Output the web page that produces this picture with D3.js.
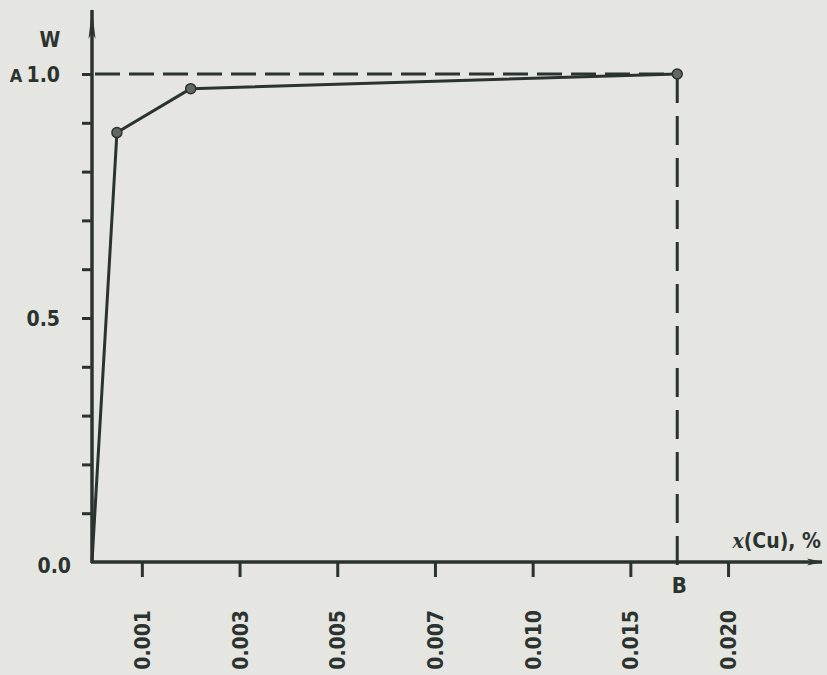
<!DOCTYPE html>
<html>
<head>
<meta charset="utf-8">
<script src="https://cdn.jsdelivr.net/npm/d3@7"></script>
<style>
  body { margin: 0; background: #e5e5e1; }
  svg { display: block; }
  text {
    font-family: "DejaVu Sans Condensed", "Liberation Sans Narrow", "DejaVu Sans", sans-serif;
    font-stretch: condensed;
    font-weight: bold;
    fill: #2b332f;
  }
</style>
</head>
<body>
<svg id="chart"></svg>
<script>
// x(Cu), % tick positions (the axis is not linear, each tick gets an equal step)
const xTicks = [0.001, 0.003, 0.005, 0.007, 0.010, 0.015, 0.020];
const xTickLabels = ['0.001', '0.003', '0.005', '0.007', '0.010', '0.015', '0.020'];
const yTicks = [0.0, 0.1, 0.2, 0.3, 0.4, 0.5, 0.6, 0.7, 0.8, 0.9, 1.0];
const yTickLabels = ['0.0', '', '', '', '', '0.5', '', '', '', '', '1.0'];

// measured curve W(x)
const xValues = [0, 0.0005, 0.002, 0.0174];
const wValues = [0, 0.88, 0.97, 1.0];

// marked points A (W = 1) and B (x where W reaches 1)
const pointA = 1.0;
const pointB = 0.0174;

const ink = '#2b332f';
const width = 827;
const height = 675;
const margin = { left: 92, top: 74, bottom: 113 };
const step = 97.7;

const svg = d3.select('#chart')
  .attr('width', width)
  .attr('height', height);

const defs = svg.append('defs');
defs.append('marker')
  .attr('id', 'arrowY')
  .attr('viewBox', '0 -4 30 8')
  .attr('refX', 29)
  .attr('refY', 0)
  .attr('markerUnits', 'userSpaceOnUse')
  .attr('markerWidth', 30)
  .attr('markerHeight', 8)
  .attr('orient', 'auto')
  .append('path')
  .attr('d', 'M0,-3.5L30,0L0,3.5L7,0Z')
  .attr('fill', ink);
defs.append('marker')
  .attr('id', 'arrowX')
  .attr('viewBox', '0 -4 16 8')
  .attr('refX', 15)
  .attr('refY', 0)
  .attr('markerUnits', 'userSpaceOnUse')
  .attr('markerWidth', 16)
  .attr('markerHeight', 8)
  .attr('orient', 'auto')
  .append('path')
  .attr('d', 'M0,-3.5L16,0L0,3.5L4,0Z')
  .attr('fill', ink);

const g = svg.append('g')
  .attr('transform', 'translate(' + margin.left + ',0)');

// piecewise scale: origin, then half a step to the first tick, then one step per tick
const x = d3.scaleLinear()
  .domain([0, ...xTicks])
  .range([0, ...xTicks.map((d, i) => step / 2 + 1 + i * step)]);

const y = d3.scaleLinear()
  .domain([0, 1])
  .range([height - margin.bottom, margin.top]);

// y axis ticks and labels
const yAxis = g.append('g')
  .call(d3.axisLeft(y)
    .tickValues(yTicks)
    .tickSize(10)
    .tickPadding(22)
    .tickFormat((d, i) => yTickLabels[i]));
yAxis.select('.domain').remove();
yAxis.selectAll('.tick line')
  .attr('stroke', ink)
  .attr('stroke-width', 3)
  .filter(d => d === 0)
  .remove();
yAxis.selectAll('.tick text')
  .attr('font-size', 21)
  .attr('fill', ink)
  .attr('dx', d => (d === 0 ? 11 : 0))
  .attr('dy', d => (d === 0 ? '0.5em' : '0.36em'));

// x axis ticks and rotated labels
const xAxis = g.append('g')
  .attr('transform', 'translate(0,' + y(0) + ')')
  .call(d3.axisBottom(x)
    .tickValues(xTicks)
    .tickSize(15)
    .tickFormat((d, i) => xTickLabels[i]));
xAxis.select('.domain').remove();
xAxis.selectAll('.tick line')
  .attr('stroke', ink)
  .attr('stroke-width', 3);
xAxis.selectAll('.tick text')
  .attr('font-size', 21)
  .attr('fill', ink)
  .attr('transform', 'rotate(-90)')
  .attr('text-anchor', 'end')
  .attr('x', -48)
  .attr('y', 0)
  .attr('dy', '0.36em');

// axis lines with arrows
g.append('line')
  .attr('x1', x(0)).attr('y1', y(0) + 1)
  .attr('x2', x(0)).attr('y2', 10)
  .attr('stroke', ink)
  .attr('stroke-width', 3.5)
  .attr('marker-end', 'url(#arrowY)');
g.append('line')
  .attr('x1', x(0) - 1).attr('y1', y(0))
  .attr('x2', width - margin.left - 5).attr('y2', y(0))
  .attr('stroke', ink)
  .attr('stroke-width', 3.5)
  .attr('marker-end', 'url(#arrowX)');

// dashed guides to A and B
g.append('line')
  .attr('x1', x(0) + 3).attr('y1', y(pointA))
  .attr('x2', x(pointB)).attr('y2', y(pointA))
  .attr('stroke', ink)
  .attr('stroke-width', 3)
  .attr('stroke-dasharray', '25,9');
g.append('line')
  .attr('x1', x(pointB)).attr('y1', y(pointA))
  .attr('x2', x(pointB)).attr('y2', y(0) + 10)
  .attr('stroke', ink)
  .attr('stroke-width', 3)
  .attr('stroke-dasharray', '29,13');

// curve
const data = d3.zip(xValues, wValues);
const line = d3.line()
  .x(d => x(d[0]))
  .y(d => y(d[1]));
g.append('path')
  .attr('d', line(data))
  .attr('fill', 'none')
  .attr('stroke', ink)
  .attr('stroke-width', 3)
  .attr('stroke-linejoin', 'round');
g.selectAll('.dot')
  .data(data.slice(1))
  .enter()
  .append('circle')
  .attr('class', 'dot')
  .attr('cx', d => x(d[0]))
  .attr('cy', d => y(d[1]))
  .attr('r', 5)
  .attr('fill', '#626763')
  .attr('stroke', ink)
  .attr('stroke-width', 1.5);

// labels
g.append('text')
  .attr('x', -42)
  .attr('y', 39)
  .attr('dy', '0.36em')
  .attr('text-anchor', 'middle')
  .attr('font-size', 21)
  .text('W');
g.append('text')
  .attr('x', -76)
  .attr('y', y(pointA) + 2)
  .attr('dy', '0.36em')
  .attr('text-anchor', 'middle')
  .attr('font-size', 18)
  .text('A');
g.append('text')
  .attr('x', x(pointB) + 2)
  .attr('y', y(0) + 23)
  .attr('dy', '0.36em')
  .attr('text-anchor', 'middle')
  .attr('font-size', 22)
  .text('B');

const axisTitle = g.append('text')
  .attr('x', width - margin.left - 6)
  .attr('y', y(0) - 14)
  .attr('text-anchor', 'end')
  .attr('font-size', 21);
axisTitle.append('tspan')
  .attr('font-style', 'italic')
  .attr('font-family', '"DejaVu Serif", "Liberation Serif", serif')
  .text('x');
axisTitle.append('tspan').text('(Cu), %');
</script>
</body>
</html>
